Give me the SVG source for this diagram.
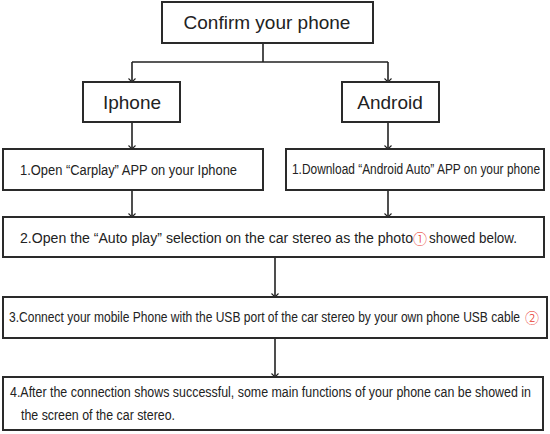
<svg xmlns="http://www.w3.org/2000/svg" width="550" height="434" viewBox="0 0 550 434">
<defs>
<style>
.box{fill:#fff;stroke:#2a2a2a;stroke-width:2}
.big{font-family:"Liberation Sans",Arial,sans-serif;font-size:19px;fill:#222}
.step{font-family:"Liberation Sans",Arial,sans-serif;font-size:14px;fill:#222}
.circ{font-family:"Noto Sans CJK SC","DejaVu Sans",sans-serif;font-size:14px;font-weight:300;fill:#e8392f}
.conn{fill:none;stroke:#222;stroke-width:1.6}
</style>
<marker id="arr" markerWidth="10" markerHeight="10" refX="5" refY="9" orient="0" markerUnits="userSpaceOnUse">
<path d="M1.5,5.5 L5,9 L8.5,5.5" fill="none" stroke="#222" stroke-width="1.1"/>
</marker>
</defs>
<rect width="550" height="434" fill="#fff"/>
<g id="connectors">
<path class="conn" d="M263,43 V62 M132,62 H388"/>
<path class="conn" d="M132,62 V82" marker-end="url(#arr)"/>
<path class="conn" d="M388,62 V82" marker-end="url(#arr)"/>
<path class="conn" d="M132,122 V149" marker-end="url(#arr)"/>
<path class="conn" d="M388,122 V149" marker-end="url(#arr)"/>
<path class="conn" d="M132,190 V217" marker-end="url(#arr)"/>
<path class="conn" d="M388,190 V217" marker-end="url(#arr)"/>
<path class="conn" d="M275,257 V297" marker-end="url(#arr)"/>
<path class="conn" d="M275,338 V377" marker-end="url(#arr)"/>
</g>
<g id="confirm">
<rect class="box" x="162" y="2" width="211" height="41"/>
<text class="big" x="267" y="29" text-anchor="middle">Confirm your phone</text>
</g>
<g id="iphone">
<rect class="box" x="83" y="82" width="97" height="40"/>
<text class="big" x="132" y="109" text-anchor="middle">Iphone</text>
</g>
<g id="android">
<rect class="box" x="342" y="82" width="97" height="40"/>
<text class="big" x="390" y="109" text-anchor="middle">Android</text>
</g>
<g id="step1-iphone">
<rect class="box" x="3" y="149" width="260" height="41"/>
<text class="step" x="20" y="175" textLength="217" lengthAdjust="spacingAndGlyphs">1.Open “Carplay” APP on your Iphone</text>
</g>
<g id="step1-android">
<rect class="box" x="286" y="149" width="258" height="41"/>
<text class="step" x="292" y="174" textLength="248" lengthAdjust="spacingAndGlyphs">1.Download “Android Auto” APP on your phone</text>
</g>
<g id="step2">
<rect class="box" x="3" y="217" width="541" height="40"/>
<text class="step" x="20" y="243" textLength="393" lengthAdjust="spacingAndGlyphs">2.Open the “Auto play” selection on the car stereo as the photo</text>
<text class="circ" x="413" y="244">①</text>
<text class="step" x="429" y="243" textLength="88" lengthAdjust="spacingAndGlyphs">showed below.</text>
</g>
<g id="step3">
<rect class="box" x="3" y="297" width="544" height="41"/>
<text class="step" x="9" y="322" textLength="511" lengthAdjust="spacingAndGlyphs">3.Connect your mobile Phone with the USB port of the car stereo by your own phone USB cable</text>
<text class="circ" x="525" y="323">②</text>
</g>
<g id="step4">
<rect class="box" x="3" y="377" width="540" height="53"/>
<text class="step" x="10" y="397" textLength="521" lengthAdjust="spacingAndGlyphs">4.After the connection shows successful, some main functions of your phone can be showed in</text>
<text class="step" x="21" y="420" textLength="154" lengthAdjust="spacingAndGlyphs">the screen of the car stereo.</text>
</g>
</svg>
